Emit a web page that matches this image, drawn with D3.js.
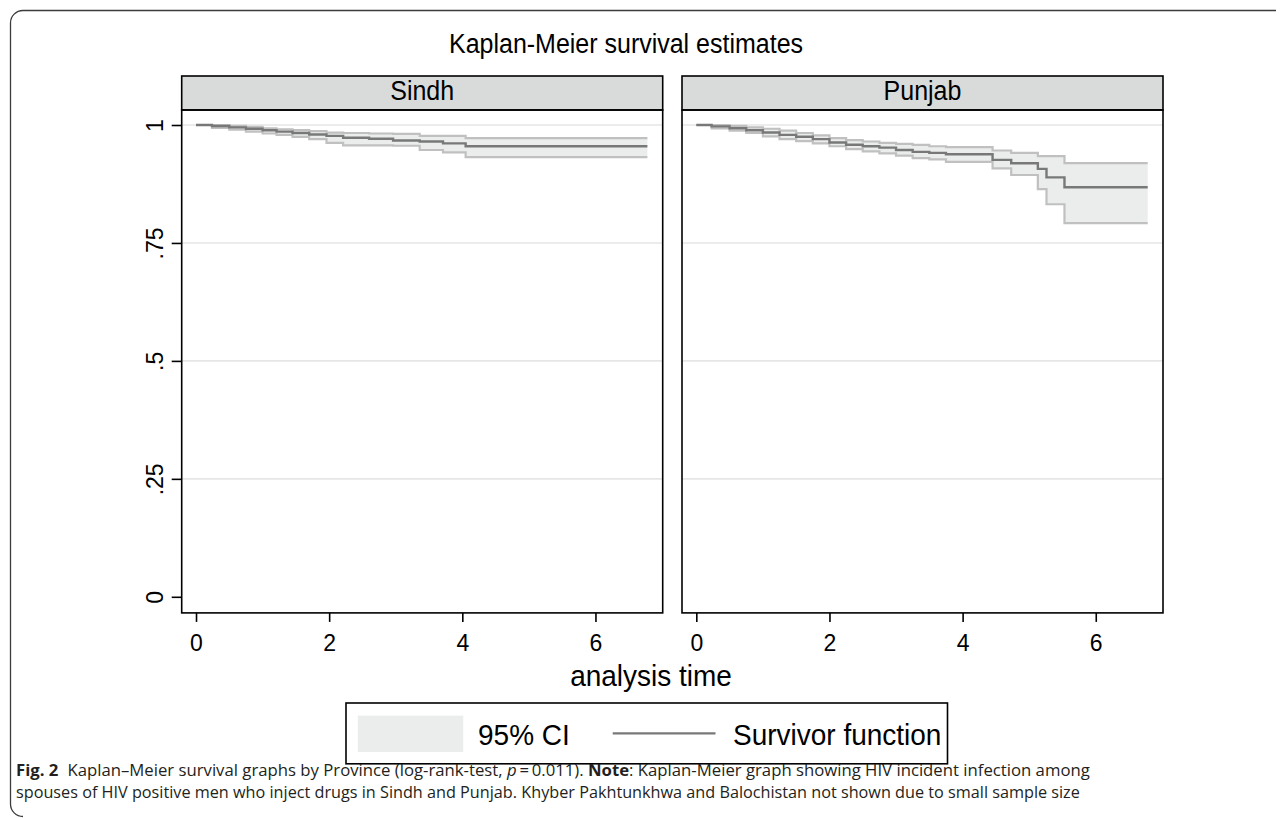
<!DOCTYPE html>
<html>
<head>
<meta charset="utf-8">
<script src="https://cdn.jsdelivr.net/npm/d3@7"></script>
<style>
  body { margin: 0; background: #fff; }
  svg { display: block; }
  text { font-family: "Liberation Sans", Arial, sans-serif; fill: #000; }
  .cap { font-family: "Open Sans", "Noto Sans", sans-serif; fill: #231f20; }
</style>
</head>
<body>
<div id="chart"></div>
<script>
// panels / facets
var provinces = ["Sindh", "Punjab"]
var endTime = 6.78

// Sindh step estimates (time where each value starts)
var sindhTime  = [0, 0.24, 0.5, 0.75, 1.0, 1.21, 1.45, 1.7, 1.96, 2.21, 2.6, 2.96, 3.36, 3.71, 4.05]
var sindhSurv  = [1, .998, .995, .992, .989, .986, .983, .980, .977, .973, .971, .967, .965, .961, .955]
var sindhUpper = [1, 1.0, .998, .996, .993, .991, .989, .987, .984, .983, .982, .981, .977, .977, .972]
var sindhLower = [1, .994, .990, .986, .982, .979, .975, .970, .962, .957, .957, .956, .947, .942, .932]

// Punjab step estimates
var punjabTime  = [0, 0.23, 0.5, 0.75, 1.0, 1.25, 1.5, 1.75, 2.0, 2.25, 2.5, 2.75, 3.0, 3.25, 3.5, 3.75, 4.45, 4.73, 5.13, 5.26, 5.53]
var punjabSurv  = [1, .997, .993, .989, .984, .979, .975, .970, .963, .958, .955, .952, .947, .943, .941, .938, .926, .919, .907, .889, .868]
var punjabUpper = [1, 1.0, .998, .995, .992, .988, .983, .978, .972, .968, .965, .962, .960, .958, .955, .953, .946, .941, .934, .934, .919]
var punjabLower = [1, .993, .988, .983, .976, .970, .966, .961, .955, .949, .944, .940, .935, .930, .927, .922, .908, .894, .864, .832, .792]

var xTicks = [0, 2, 4, 6]
var yTicks = [0, .25, .5, .75, 1]
var yTickLabels = ["0", ".25", ".5", ".75", "1"]
var gridTicks = [.25, .5, .75, 1]

var legendLabels = ["95% CI", "Survivor function"]
var titleText = "Kaplan-Meier survival estimates"
var xTitle = "analysis time"

var width = 1284, height = 818
var svg = d3.select("#chart").append("svg").attr("width", width).attr("height", height)

var k = 1.08 // glyphs in the reference are a bit taller than Arial
var ciFill = "#ebeded", ciEdge = "#c0c0c0", survCol = "#787878"

function stext(g, x, y, str, size, anchor) {
    return g.append("text")
        .attr("transform", `translate(${x},${y}) scale(1,${k})`)
        .attr("text-anchor", anchor || "middle")
        .style("font-size", size + "px")
        .text(str)
}

// frame
svg.append("path")
    .attr("d", "M1276,10.5 H23 A12.5,12.5 0 0 0 10.5,23 V804 A12.5,12.5 0 0 0 23,816.5")
    .attr("fill", "none").attr("stroke", "#3c3c3c").attr("stroke-width", 1.3)

stext(svg, 626, 53, titleText, 25)

var panelLeft = [181.7, 682]
var panelW = 481
var headTop = 76, headBot = 110, plotBot = 612.9

var y = d3.scaleLinear().domain([0, 1]).range([596.8, 125])

var series = [
    {time: sindhTime, s: sindhSurv, u: sindhUpper, l: sindhLower},
    {time: punjabTime, s: punjabSurv, u: punjabUpper, l: punjabLower}
]

provinces.forEach(function(name, i) {
    var x = d3.scaleLinear().domain([-0.215, 7.01]).range([panelLeft[i], panelLeft[i] + panelW])
    var g = svg.append("g")
    var d = series[i]
    var pts = d.time.map((t, j) => ({t: t, s: d.s[j], u: d.u[j], l: d.l[j]}))
    var last = pts[pts.length - 1]
    pts.push({t: endTime, s: last.s, u: last.u, l: last.l})

    // header strip
    g.append("rect").attr("x", x.range()[0]).attr("y", headTop).attr("width", panelW).attr("height", headBot - headTop)
        .attr("fill", "#d9dbdb").attr("stroke", "#000").attr("stroke-width", 1.6)
    stext(g, x.range()[0] + panelW / 2, 100, name, 25)

    // gridlines
    g.selectAll(".grid").data(gridTicks).join("line")
        .attr("x1", x.range()[0]).attr("x2", x.range()[1])
        .attr("y1", v => y(v)).attr("y2", v => y(v))
        .attr("stroke", "#e6e6e6").attr("stroke-width", 1.6)

    var area = d3.area().curve(d3.curveStepAfter).x(p => x(p.t)).y0(p => y(p.l)).y1(p => y(p.u))
    var lineU = d3.line().curve(d3.curveStepAfter).x(p => x(p.t)).y(p => y(p.u))
    var lineL = d3.line().curve(d3.curveStepAfter).x(p => x(p.t)).y(p => y(p.l))
    var lineS = d3.line().curve(d3.curveStepAfter).x(p => x(p.t)).y(p => y(p.s))

    g.append("path").attr("d", area(pts)).attr("fill", ciFill)
    g.append("path").attr("d", lineU(pts)).attr("fill", "none").attr("stroke", ciEdge).attr("stroke-width", 2.2)
    g.append("path").attr("d", lineL(pts)).attr("fill", "none").attr("stroke", ciEdge).attr("stroke-width", 2.2)
    g.append("path").attr("d", lineS(pts)).attr("fill", "none").attr("stroke", survCol).attr("stroke-width", 2.4)

    // plot border
    g.append("rect").attr("x", x.range()[0]).attr("y", headBot).attr("width", panelW).attr("height", plotBot - headBot)
        .attr("fill", "none").attr("stroke", "#000").attr("stroke-width", 1.6)

    // x axis
    var xa = g.append("g").attr("transform", `translate(0,${plotBot})`)
        .call(d3.axisBottom(x).tickValues(xTicks).tickSize(9).tickFormat(d3.format("d")))
    xa.select(".domain").remove()
    xa.selectAll(".tick line").attr("stroke", "#000").attr("stroke-width", 1.6)
    xa.selectAll(".tick text").attr("y", null).attr("dy", null)
        .attr("transform", `translate(0,38.5) scale(1,${k})`)
        .style("font-size", "23px").style("font-family", "Liberation Sans, Arial, sans-serif").attr("fill", "#000")

    // y axis only on the first panel
    if (i == 0) {
        var ya = g.append("g").attr("transform", `translate(${x.range()[0]},0)`)
            .call(d3.axisLeft(y).tickValues(yTicks).tickSize(10).tickFormat((v, j) => yTickLabels[j]))
        ya.select(".domain").remove()
        ya.selectAll(".tick line").attr("stroke", "#000").attr("stroke-width", 1.6)
        ya.selectAll(".tick text").attr("x", null).attr("dy", null)
            .attr("transform", "translate(-18.4,0) rotate(-90)")
            .attr("text-anchor", "middle")
            .style("font-size", "23px").style("font-family", "Liberation Sans, Arial, sans-serif").attr("fill", "#000")
    }
})

stext(svg, 651, 686, xTitle, 28)

// legend
var lg = svg.append("g")
lg.append("rect").attr("x", 346).attr("y", 703).attr("width", 601.5).attr("height", 60.8)
    .attr("fill", "#fff").attr("stroke", "#000").attr("stroke-width", 1.6)
lg.append("rect").attr("x", 357.8).attr("y", 715.6).attr("width", 105.5).attr("height", 36.4).attr("fill", ciFill)
stext(lg, 478, 745, legendLabels[0], 28, "start")
lg.append("line").attr("x1", 612.7).attr("x2", 715.5).attr("y1", 733.4).attr("y2", 733.4)
    .attr("stroke", survCol).attr("stroke-width", 2.4)
stext(lg, 733, 745, legendLabels[1], 28, "start")

// caption
var cap1 = svg.append("text").attr("class", "cap").attr("x", 16).attr("y", 776)
cap1.append("tspan").style("font-weight", "bold").text("Fig. 2")
cap1.append("tspan").attr("dx", 9).text("Kaplan–Meier survival graphs by Province (log-rank-test, ")
cap1.append("tspan").style("font-style", "italic").text("p")
cap1.append("tspan").text("\u2009=\u20090.011). ")
cap1.append("tspan").style("font-weight", "bold").text("Note")
cap1.append("tspan").text(": Kaplan-Meier graph showing HIV incident infection among")

var cap2 = svg.append("text").attr("class", "cap").attr("x", 16).attr("y", 797.5)
    .text("spouses of HIV positive men who inject drugs in Sindh and Punjab. Khyber Pakhtunkhwa and Balochistan not shown due to small sample size")

function fit(t, target) {
    var fs = 16
    t.style("font-size", fs + "px")
    var len = t.node().getComputedTextLength()
    t.style("font-size", (fs * target / len) + "px")
}
fit(cap1, 1066)
fit(cap2, 1064)
</script>
</body>
</html>
